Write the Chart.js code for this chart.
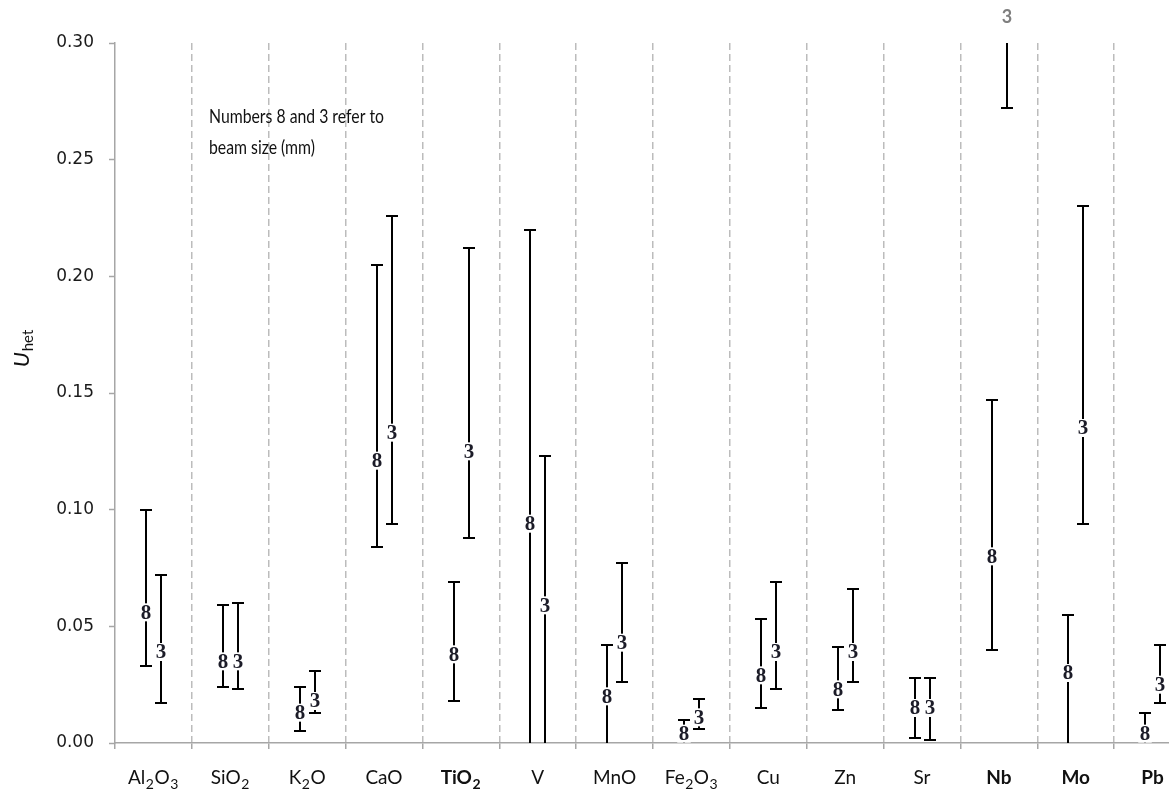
<!DOCTYPE html>
<html><head><meta charset="utf-8">
<script src="https://cdn.jsdelivr.net/npm/chart.js@4/dist/chart.umd.min.js"></script>
<style>
html,body{margin:0;padding:0;overflow:hidden;background:#fff;width:1169px;height:796px}
#wrap{position:absolute;left:0;top:0;width:1195px;height:796px}
</style></head>
<body><div id="wrap"><canvas id="c" width="1195" height="796"></canvas></div>
<script>
// ---- data ----
const categories = ['Al2O3','SiO2','K2O','CaO','TiO2','V','MnO','Fe2O3','Cu','Zn','Sr','Nb','Mo','Pb'];
const boldCategories = ['TiO2','Nb','Mo','Pb'];
const yTicks = [0, 0.05, 0.10, 0.15, 0.20, 0.25, 0.30];

// beam size 8 mm
const mid8 = [0.056, 0.035, 0.013, 0.121, 0.038, 0.094, 0.020, 0.004, 0.029, 0.023, 0.015, 0.080, 0.030, 0.004];
const up8  = [0.100, 0.059, 0.024, 0.205, 0.069, 0.220, 0.042, 0.010, 0.053, 0.041, 0.028, 0.147, 0.055, 0.013];
const lo8  = [0.033, 0.024, 0.005, 0.084, 0.018, 0.000, 0.000, 0.000, 0.015, 0.014, 0.002, 0.040, 0.000, 0.000];
// beam size 3 mm
const mid3 = [0.039, 0.035, 0.018, 0.133, 0.125, 0.059, 0.043, 0.011, 0.039, 0.039, 0.015, 0.330, 0.135, 0.025];
const up3  = [0.072, 0.060, 0.031, 0.226, 0.212, 0.123, 0.077, 0.019, 0.069, 0.066, 0.028, 0.390, 0.230, 0.042];
const lo3  = [0.017, 0.023, 0.013, 0.094, 0.088, 0.000, 0.026, 0.006, 0.023, 0.026, 0.0015, 0.272, 0.094, 0.017];

const seriesNames = ['8', '3'];
const noteLines = ['Numbers 8 and 3 refer to', 'beam size (mm)'];
const yTitleMain = 'U', yTitleSub = 'het';

// ---- presentation ----
const OFFSETS = [-0.095, 0.10];
const series = [
  {name: seriesNames[0], mid: mid8, up: up8, lo: lo8},
  {name: seriesNames[1], mid: mid3, up: up3, lo: lo3}
];

function splitSub(label) {
  const runs = [];
  for (const ch of label) {
    const sub = /[0-9]/.test(ch);
    if (runs.length && runs[runs.length-1].sub === sub) runs[runs.length-1].t += ch;
    else runs.push({t: ch, sub});
  }
  return runs;
}

const errorBarPlugin = {
  id: 'errorBars',
  afterDatasetsDraw(chart) {
    const {ctx, chartArea: a, scales: {x, y}} = chart;
    ctx.save();
    ctx.beginPath();
    ctx.rect(0, a.top, chart.width, chart.height - a.top);
    ctx.clip();
    ctx.strokeStyle = '#000';
    ctx.lineWidth = 2;
    series.forEach((s, si) => {
      s.mid.forEach((m, i) => {
        const px = Math.round(x.getPixelForValue(i + 0.5 + OFFSETS[si]));
        const yt = y.getPixelForValue(s.up[i]);
        const yb = y.getPixelForValue(s.lo[i]);
        ctx.beginPath();
        ctx.moveTo(px, yt); ctx.lineTo(px, yb);
        if (s.up[i] <= y.max) { ctx.moveTo(px - 6, Math.round(yt)); ctx.lineTo(px + 6, Math.round(yt)); }
        if (s.lo[i] > 0) { ctx.moveTo(px - 6, Math.round(yb)); ctx.lineTo(px + 6, Math.round(yb)); }
        ctx.stroke();
      });
    });
    ctx.font = 'bold 21px "Liberation Serif"';
    ctx.textAlign = 'center';
    ctx.textBaseline = 'middle';
    series.forEach((s, si) => {
      s.mid.forEach((m, i) => {
        if (m > y.max) return;
        const px = Math.round(x.getPixelForValue(i + 0.5 + OFFSETS[si]));
        const py = y.getPixelForValue(m);
        const w = ctx.measureText(s.name).width + 3;
        ctx.fillStyle = '#fff';
        ctx.fillRect(px - w / 2, py - 9, w, 18);
        ctx.fillStyle = '#1c1c28';
        ctx.fillText(s.name, px, py + 1);
      });
    });
    ctx.restore();
    ctx.save();
    ctx.font = 'bold 18px Lato';
    ctx.fillStyle = '#7f7f7f';
    ctx.textAlign = 'center';
    ctx.textBaseline = 'middle';
    series.forEach((s, si) => {
      s.mid.forEach((m, i) => {
        if (m <= y.max) return;
        const px = Math.round(x.getPixelForValue(i + 0.5 + OFFSETS[si]));
        ctx.fillText(s.name, px, 17);
      });
    });
    ctx.restore();
  },
  afterDraw(chart) {
    const {ctx, scales: {x}} = chart;
    ctx.save();
    ctx.fillStyle = '#111';
    ctx.textBaseline = 'alphabetic';
    ctx.textAlign = 'left';
    categories.forEach((c, i) => {
      const bold = boldCategories.includes(c) ? 'bold ' : '';
      const runs = splitSub(c);
      let total = 0;
      runs.forEach(r => { ctx.font = bold + (r.sub ? '14px' : '19px') + ' Lato'; r.w = ctx.measureText(r.t).width + (r.sub ? 1 : 0); total += r.w; });
      const cx = x.getPixelForValue(i + 0.5);
      let left = cx - total / 2;
      if (left + total > 1164) left = 1164 - total;
      runs.forEach(r => {
        ctx.font = bold + (r.sub ? '14px' : '19px') + ' Lato';
        ctx.fillText(r.t, left + (r.sub ? 0.5 : 0), r.sub ? 789 : 784);
        left += r.w;
      });
    });
    ctx.restore();

    ctx.save();
    ctx.translate(22, 349);
    ctx.rotate(-Math.PI / 2);
    ctx.fillStyle = '#111';
    ctx.textBaseline = 'alphabetic';
    ctx.font = 'italic 22px Lato';
    const wU = ctx.measureText(yTitleMain).width;
    ctx.font = '15px Lato';
    const wS = ctx.measureText(yTitleSub).width;
    const lx = -(wU + wS) / 2;
    ctx.font = 'italic 22px Lato';
    ctx.fillText(yTitleMain, lx, 7);
    ctx.font = '15px Lato';
    ctx.fillText(yTitleSub, lx + wU + 1, 11);
    ctx.restore();

    ctx.save();
    ctx.font = '20px Lato';
    ctx.fillStyle = '#111';
    ctx.textBaseline = 'middle';
    const w1 = ctx.measureText(noteLines[0]).width;
    const f = Math.min(1, 175 / w1);
    ctx.translate(209, 0);
    ctx.scale(f, 1);
    ctx.fillText(noteLines[0], 0, 117);
    ctx.fillText(noteLines[1], 0, 148);
    ctx.restore();
  }
};

const datasets = series.map((s, si) => ({
  label: s.name,
  data: s.mid.map((v, i) => ({x: i + 0.5 + OFFSETS[si], y: v})),
  pointRadius: 0,
  showLine: false
}));

new Chart(document.getElementById('c'), {
  type: 'scatter',
  data: {datasets},
  plugins: [errorBarPlugin],
  options: {
    responsive: false,
    animation: false,
    devicePixelRatio: 1,
    layout: {padding: {top: 43, right: 4, left: 0, bottom: 0}},
    plugins: {legend: {display: false}, tooltip: {enabled: false}},
    scales: {
      x: {
        type: 'linear',
        min: 0, max: categories.length,
        afterBuildTicks: (s) => { s.ticks = categories.map((_, i) => ({value: i})).concat([{value: categories.length}]); },
        afterFit: (s) => { s.height = 53; },
        ticks: {callback: () => '', autoSkip: false},
        grid: {
          drawOnChartArea: true,
          color: (c) => (c.index === 0 ? 'rgba(0,0,0,0)' : '#bcbcbc'),
          lineWidth: 1.5,
          tickColor: '#a6a6a6',
          tickLength: 6,
          tickWidth: 1.5
        },
        border: {display: true, color: '#a6a6a6', width: 1.5, dash: [7, 4]}
      },
      y: {
        min: 0, max: 0.30,
        afterBuildTicks: (s) => { s.ticks = yTicks.map(v => ({value: v})); },
        afterFit: (s) => { s.width = 115; },
        ticks: {
          callback: (v) => Number(v).toFixed(2),
          font: {family: 'DejaVu Sans', size: 17},
          color: '#1a1a1a',
          padding: 15
        },
        grid: {drawOnChartArea: false, color: '#a6a6a6', tickLength: 6, tickWidth: 1.5},
        border: {display: true, color: '#a6a6a6', width: 1.5}
      }
    }
  }
});
</script>
</body></html>
